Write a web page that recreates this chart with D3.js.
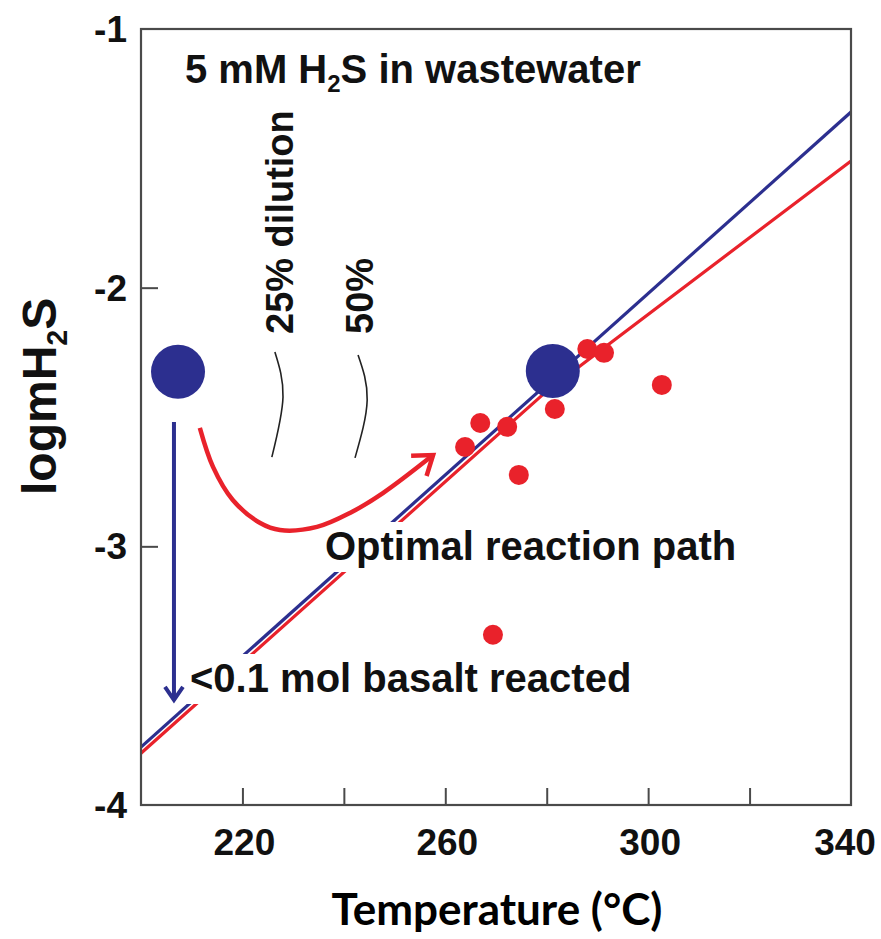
<!DOCTYPE html>
<html>
<head>
<meta charset="utf-8">
<script src="https://cdn.jsdelivr.net/npm/d3@7"></script>
<style>
  html, body { margin: 0; padding: 0; background: #fff; }
  svg { display: block; }
  text { font-family: "Liberation Sans", Arial, Helvetica, sans-serif; font-weight: bold; fill: #111; }
</style>
</head>
<body>
<script>
// ---------------- data ----------------
const xDomain = [200, 340];
const yDomain = [-4, -1];
const xTickValues = [220, 240, 260, 280, 300, 320];
const xTickLabels = [220, 260, 300, 340];
const yTickValues = [-2, -3];
const yTickLabels = [-1, -2, -3, -4];

// model lines
const blueLineT = [200, 340];
const blueLineLogm = [-3.776, -1.321];
const redLineT = [200, 280, 340];
const redLineLogm = [-3.80, -2.40, -1.51];

// measured (red dots)
const dotsT = [263.9, 266.9, 272.2, 274.5, 281.6, 288.0, 291.3, 302.7, 269.4];
const dotsLogm = [-2.616, -2.523, -2.538, -2.724, -2.469, -2.237, -2.252, -2.376, -3.342];

// big blue circles (start / optimal)
const bigT = [207.3, 281.2];
const bigLogm = [-2.325, -2.322];

// blue vertical arrow
const blueArrowT = [206.5, 206.5];
const blueArrowLogm = [-2.519, -3.594];

// red curved arrow (optimal reaction path)
const redArrowT = [211.6, 214.2, 218.1, 223.5, 227.4, 234.7, 241.2, 247.7, 257.6];
const redArrowLogm = [-2.542, -2.693, -2.821, -2.910, -2.937, -2.925, -2.871, -2.794, -2.647];

// dilution curves
const dil25T = [226.4, 228.0, 225.8];
const dil25Logm = [-2.249, -2.423, -2.655];
const dil50T = [242.8, 244.6, 242.2];
const dil50Logm = [-2.260, -2.434, -2.658];

// ---------------- drawing ----------------
const W = 881, H = 939;
const svg = d3.select("body").append("svg").attr("width", W).attr("height", H);

const x = d3.scaleLinear().domain(xDomain).range([141, 851]);
const y = d3.scaleLinear().domain(yDomain).range([805, 29]);

const BLUE = "#2c2f8f";
const RED = "#e9222b";

const zip = (a, b) => a.map((v, i) => [v, b[i]]);
const line = d3.line().x(d => x(d[0])).y(d => y(d[1]));

const defs = svg.append("defs");
defs.append("clipPath").attr("id", "plot").append("rect")
  .attr("x", x(200)).attr("y", y(-1)).attr("width", x(340) - x(200)).attr("height", y(-4) - y(-1));

const plot = svg.append("g").attr("clip-path", "url(#plot)");

// model lines
plot.append("path").datum(zip(redLineT, redLineLogm)).attr("d", line)
  .attr("fill", "none").attr("stroke", RED).attr("stroke-width", 3.2);
plot.append("path").datum(zip(blueLineT, blueLineLogm)).attr("d", line)
  .attr("fill", "none").attr("stroke", BLUE).attr("stroke-width", 3.2);

// text labels with white background boxes
function label(g, txt, px, py, opts = {}) {
  const t = g.append("text").attr("x", px).attr("y", py)
    .style("font-size", (opts.size || 40) + "px");
  if (Array.isArray(txt)) {
    txt.forEach(p => {
      const s = t.append("tspan").text(p.t);
      if (p.sub) s.style("font-size", "60%").attr("dy", 9);
      if (p.up) s.attr("dy", -9);
    });
  } else t.text(txt);
  return t;
}
function bgLabel(txt, px, py, pad) {
  const g = svg.append("g");
  const r = g.append("rect").attr("fill", "#fff");
  const t = label(g, txt, px, py);
  const b = t.node().getBBox();
  r.attr("x", b.x - pad).attr("y", b.y - pad + 4).attr("width", b.width + 2 * pad).attr("height", b.height + 2 * pad - 6);
  return g;
}
bgLabel("Optimal reaction path", 325, 560, 6);
bgLabel("<0.1 mol basalt reacted", 190, 692, 6);

// title inside plot
label(svg, [{t: "5 mM H"}, {t: "2", sub: true}, {t: "S in wastewater", up: true}], 185, 83);

// rotated dilution labels
svg.append("text").attr("transform", "translate(293,334) rotate(-90)")
  .style("font-size", "38px").text("25% dilution");
svg.append("text").attr("transform", "translate(373,334) rotate(-90)")
  .style("font-size", "38px").text("50%");

// dilution curves
const curve = d3.line().x(d => x(d[0])).y(d => y(d[1])).curve(d3.curveNatural);
[zip(dil25T, dil25Logm), zip(dil50T, dil50Logm)].forEach(pts => {
  svg.append("path").datum(pts).attr("d", curve)
    .attr("fill", "none").attr("stroke", "#222").attr("stroke-width", 1.6);
});

// blue vertical arrow
const ba = zip(blueArrowT, blueArrowLogm);
svg.append("path").datum(ba).attr("d", line)
  .attr("fill", "none").attr("stroke", BLUE).attr("stroke-width", 4);
{
  const tx = x(ba[1][0]), ty = y(ba[1][1]);
  svg.append("path").attr("d", `M${tx - 9},${ty - 13} L${tx},${ty} L${tx + 9},${ty - 13}`)
    .attr("fill", "none").attr("stroke", BLUE).attr("stroke-width", 4).attr("stroke-linejoin", "miter");
}

// red curved arrow
const ra = zip(redArrowT, redArrowLogm);
svg.append("path").datum(ra).attr("d", d3.line().x(d => x(d[0])).y(d => y(d[1])).curve(d3.curveCatmullRom))
  .attr("fill", "none").attr("stroke", RED).attr("stroke-width", 4.5);
{
  const p1 = ra[ra.length - 2], p2 = ra[ra.length - 1];
  const tx = x(p2[0]), ty = y(p2[1]);
  const ang = Math.atan2(ty - y(p1[1]), tx - x(p1[0]));
  const L = 22, a = 0.62;
  const l1 = [tx - L * Math.cos(ang - a), ty - L * Math.sin(ang - a)];
  const l2 = [tx - L * Math.cos(ang + a), ty - L * Math.sin(ang + a)];
  svg.append("path").attr("d", `M${l1[0]},${l1[1]} L${tx},${ty} L${l2[0]},${l2[1]}`)
    .attr("fill", "none").attr("stroke", RED).attr("stroke-width", 4.5).attr("stroke-linejoin", "miter");
}

// red dots
svg.append("g").selectAll("circle").data(zip(dotsT, dotsLogm)).join("circle")
  .attr("cx", d => x(d[0])).attr("cy", d => y(d[1])).attr("r", 10).attr("fill", RED);

// big blue circles
svg.append("g").selectAll("circle").data(zip(bigT, bigLogm)).join("circle")
  .attr("cx", d => x(d[0])).attr("cy", d => y(d[1])).attr("r", 27).attr("fill", BLUE);

// frame
svg.append("rect").attr("x", x(200)).attr("y", y(-1)).attr("width", x(340) - x(200)).attr("height", y(-4) - y(-1))
  .attr("fill", "none").attr("stroke", "#4a4a4a").attr("stroke-width", 2.2);

// axes (inward ticks)
const xAxis = d3.axisBottom(x).tickValues(xTickValues).tickSizeInner(-17).tickSizeOuter(0).tickFormat("");
const gx = svg.append("g").attr("transform", `translate(0,${y(-4)})`).call(xAxis);
gx.select(".domain").remove();
gx.selectAll(".tick line").attr("stroke", "#4a4a4a").attr("stroke-width", 2);

const yAxis = d3.axisLeft(y).tickValues(yTickValues).tickSizeInner(-17).tickSizeOuter(0).tickFormat("");
const gy = svg.append("g").attr("transform", `translate(${x(200)},0)`).call(yAxis);
gy.select(".domain").remove();
gy.selectAll(".tick line").attr("stroke", "#4a4a4a").attr("stroke-width", 2);

// tick labels
svg.append("g").selectAll("text").data(xTickLabels).join("text")
  .attr("x", d => x(d)).attr("dx", (d, i) => i === xTickLabels.length - 1 ? -6 : 2)
  .attr("y", 855).attr("text-anchor", "middle")
  .style("font-size", "37px").text(d => d);
svg.append("g").selectAll("text").data(yTickLabels).join("text")
  .attr("x", 127).attr("y", d => y(d) + 13).attr("text-anchor", "end")
  .style("font-size", "37px").text(d => d);

// axis titles
const yt = svg.append("text").attr("transform", "translate(56,495) rotate(-90)").style("font-size", "48px");
yt.append("tspan").text("logmH");
yt.append("tspan").text("2").style("font-size", "60%").attr("dy", 11);
yt.append("tspan").text("S").attr("dy", -11);

svg.append("text").attr("x", 497).attr("y", 925).attr("text-anchor", "middle")
  .style("font-family", "Lato, 'Open Sans', sans-serif").style("font-weight", "bold").style("font-size", "44px")
  .style("fill", "#000").text("Temperature (°C)");
</script>
</body>
</html>
